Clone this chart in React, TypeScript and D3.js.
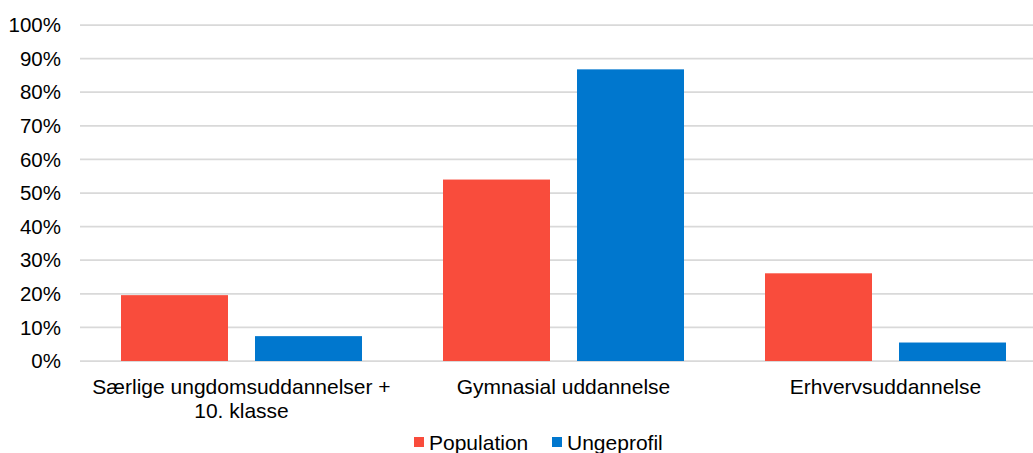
import React from "react";
import * as d3 from "d3";

const categories = ["Særlige ungdomsuddannelser + 10. klasse", "Gymnasial uddannelse", "Erhvervsuddannelse"];
const categoryLines = [["Særlige ungdomsuddannelser +", "10. klasse"], ["Gymnasial uddannelse"], ["Erhvervsuddannelse"]];
const seriesNames = ["Population", "Ungeprofil"];
const population = [19.6, 54.0, 26.1];
const ungeprofil = [7.4, 86.8, 5.5];
const yTicks = [0, 10, 20, 30, 40, 50, 60, 70, 80, 90, 100];
const colors = ["#F94C3C", "#0077CE"];

const W = 1033;
const H = 453;
const FONT = "'Liberation Sans', Arial, sans-serif";

export default function App() {
  const series = [population, ungeprofil];
  const y = d3.scaleLinear().domain([0, 100]).range([361, 25]);
  const x0 = d3
    .scaleBand<string>()
    .domain(categories)
    .range([80.5, 1046.5])
    .paddingInner(81 / 322)
    .paddingOuter(81 / 322 / 2);
  const x1 = d3
    .scaleBand<string>()
    .domain(seriesNames)
    .range([0, x0.bandwidth()])
    .paddingInner(27 / 134)
    .paddingOuter(0);

  const legendX = [414, 552];

  return (
    <svg
      width={W}
      height={H}
      style={{ position: "absolute", left: 0, top: 0, background: "#fff" }}
      fontFamily={FONT}
    >
      <g>
        {yTicks.map((t) => (
          <g key={t}>
            <line x1={80} x2={W} y1={y(t)} y2={y(t)} stroke="#d9d9d9" strokeWidth={1.75} />
            <text x={61} y={y(t)} dy="0.35em" textAnchor="end" fontSize={20.5} fill="#000">
              {t}%
            </text>
          </g>
        ))}
      </g>
      <g>
        {categories.map((c, ci) => (
          <g key={c} transform={`translate(${x0(c)},0)`}>
            {seriesNames.map((s, si) => (
              <rect
                key={s}
                x={x1(s)}
                y={y(series[si][ci])}
                width={x1.bandwidth()}
                height={y(0) - y(series[si][ci])}
                fill={colors[si]}
              />
            ))}
          </g>
        ))}
      </g>
      <g>
        {categories.map((c, ci) => (
          <text
            key={c}
            x={(x0(c) as number) + x0.bandwidth() / 2}
            y={394}
            textAnchor="middle"
            fontSize={21}
            fill="#000"
          >
            {categoryLines[ci].map((l, li) => (
              <tspan key={li} x={(x0(c) as number) + x0.bandwidth() / 2} dy={li === 0 ? 0 : 24}>
                {l}
              </tspan>
            ))}
          </text>
        ))}
      </g>
      <g>
        {seriesNames.map((s, si) => (
          <g key={s}>
            <rect x={legendX[si]} y={437} width={10} height={10} fill={colors[si]} />
            <text x={legendX[si] + 15} y={450} fontSize={21} fill="#000">
              {s}
            </text>
          </g>
        ))}
      </g>
    </svg>
  );
}
